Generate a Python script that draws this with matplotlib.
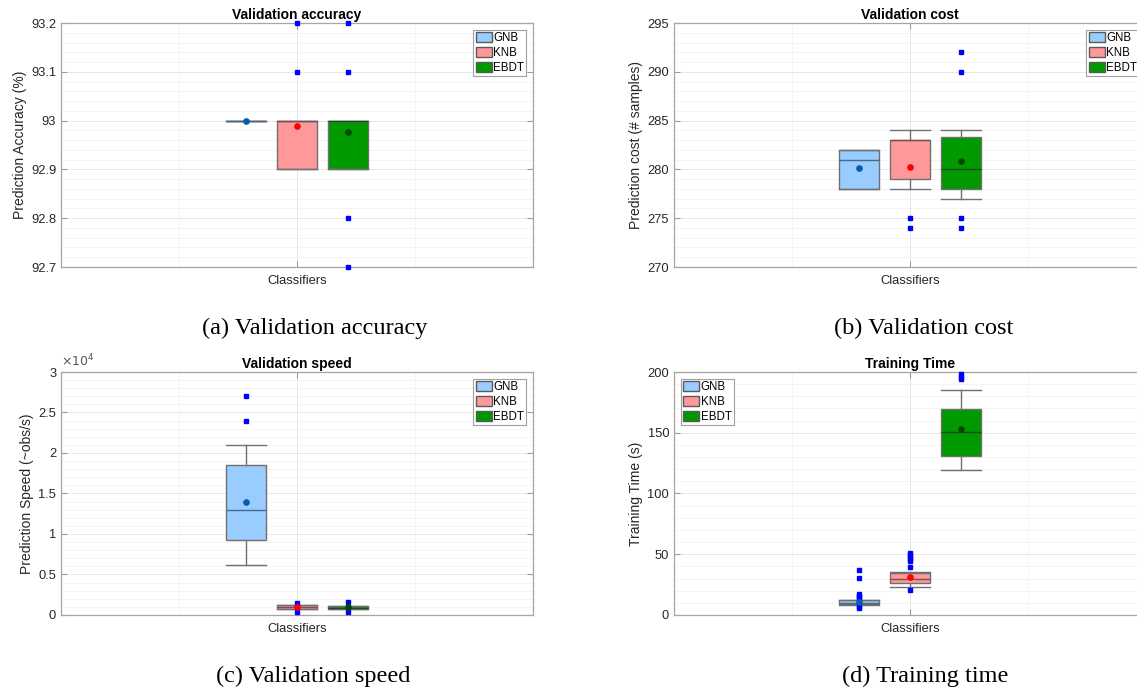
import matplotlib
matplotlib.use("Agg")
from matplotlib import pyplot as plt
from matplotlib.patches import Patch
from matplotlib.ticker import MultipleLocator, FixedLocator, FuncFormatter

classes = ["GNB", "KNB", "EBDT"]

# (a) validation accuracy (%)
acc_q1 = [93.0, 92.9, 92.9]
acc_med = [93.0, 93.0, 93.0]
acc_q3 = [93.0, 93.0, 93.0]
acc_lo = [93.0, 92.9, 92.9]
acc_hi = [93.0, 93.0, 93.0]
acc_mean = [93.0, 92.988, 92.976]
acc_out = [[], [93.1, 93.2], [93.2, 93.1, 92.8, 92.7]]

# (b) validation cost (# samples)
cost_q1 = [278, 279, 278]
cost_med = [281, 283, 280]
cost_q3 = [282, 283, 283.3]
cost_lo = [278, 278, 277]
cost_hi = [282, 284, 284]
cost_mean = [280.15, 280.2, 280.85]
cost_out = [[], [275, 274], [292, 290, 275, 274]]

# (c) validation speed (obs/s)
speed_q1 = [9200, 780, 740]
speed_med = [13000, 950, 920]
speed_q3 = [18500, 1200, 1150]
speed_lo = [6200, 780, 740]
speed_hi = [21000, 1200, 1150]
speed_mean = [13900, 990, 950]
speed_out = [[27000, 24000], [1500, 400], [1600, 380]]

# (d) training time (s)
time_q1 = [8.8, 26.1, 131.2]
time_med = [10.1, 29.6, 151.0]
time_q3 = [12.1, 34.3, 169.6]
time_lo = [8.0, 23.3, 119.7]
time_hi = [12.5, 35.7, 184.9]
time_mean = [10.6, 31.3, 153.2]
time_out = [[37, 30.4, 17.5, 16, 14.5, 13.5, 7.5, 6],
            [50.8, 49.3, 47.8, 46.3, 44.5, 39.2, 20.6],
            [198, 196, 194]]

FACE = ["#99ccff", "#ff9999", "#009900"]
MEANC = ["#0a5cb0", "#ff0000", "#004a00"]
MEDC = ["#4a6a8a", "#7a5050", "#1e4a1e"]
POS = [0.892, 1.0, 1.108]
SANS = "Liberation Sans"
TXT = "#262626"


def draw_panel(ax, q1, med, q3, lo, hi, mean, out, title, ylabel, ylim, major, minor,
               legend_loc="upper right", fmt=None):
    stats = []
    for i in range(len(classes)):
        stats.append(dict(q1=q1[i], med=med[i], q3=q3[i], whislo=lo[i], whishi=hi[i],
                          mean=mean[i], fliers=out[i], label=classes[i]))
    for i in range(len(classes)):
        r = ax.bxp([stats[i]], positions=[POS[i]], widths=0.085, patch_artist=True,
                   showmeans=True, showfliers=True, capwidths=0.085,
                   boxprops=dict(facecolor=FACE[i], edgecolor="#707070", linewidth=1.0),
                   whiskerprops=dict(color="#707070", linewidth=1.0),
                   capprops=dict(color="#707070", linewidth=1.0),
                   medianprops=dict(color=MEDC[i], linewidth=1.0),
                   meanprops=dict(marker="o", markerfacecolor=MEANC[i], markeredgecolor=MEANC[i],
                                  markersize=3.8),
                   flierprops=dict(marker="s", markerfacecolor="#0000ff", markeredgecolor="#0000ff",
                                   markersize=2.8, linestyle="none"))
        for fl in r["fliers"]:
            fl.set_clip_on(False)
            fl.set_zorder(5)
        for m in r["means"]:
            m.set_zorder(6)

    ax.set_xlim(0.5, 1.5)
    ax.set_ylim(*ylim)
    ax.xaxis.set_major_locator(FixedLocator([1.0]))
    ax.xaxis.set_minor_locator(FixedLocator([0.75, 1.25]))
    ax.set_xticklabels(["Classifiers"])
    ax.yaxis.set_major_locator(MultipleLocator(major))
    ax.yaxis.set_minor_locator(MultipleLocator(minor))
    if fmt is None:
        fmt = lambda v, p: "%g" % round(v, 6)
    ax.yaxis.set_major_formatter(FuncFormatter(fmt))

    ax.grid(True, which="major", color="#e3e3e3", linewidth=0.6)
    ax.grid(True, which="minor", color="#f0f0f0", linewidth=0.5)
    ax.set_axisbelow(True)
    ax.tick_params(which="both", direction="in", top=True, right=True, colors="#9a9a9a",
                   labelcolor=TXT, labelsize=9.3, length=4)
    ax.tick_params(which="minor", length=0)
    ax.tick_params(axis="x", pad=6)
    for lab in ax.get_xticklabels() + ax.get_yticklabels():
        lab.set_family(SANS)
    for s in ax.spines.values():
        s.set_color("#a6a6a6")
        s.set_linewidth(0.9)

    ax.set_title(title, fontsize=10, fontweight="bold", family=SANS, color="black", pad=3)
    ax.set_ylabel(ylabel, fontsize=10, family=SANS, color=TXT, labelpad=3)

    handles = [Patch(facecolor=FACE[i], edgecolor="#5a5a5a", label=classes[i])
               for i in range(len(classes))]
    leg = ax.legend(handles=handles, loc=legend_loc, fancybox=False, framealpha=1,
                    prop={"family": SANS, "size": 8.3}, handlelength=1.4, handleheight=0.9,
                    handletextpad=0.1, labelspacing=0.25, borderpad=0.2, borderaxespad=0.6)
    leg.get_frame().set_edgecolor("#a0a0a0")
    leg.get_frame().set_linewidth(0.8)


fig = plt.figure(figsize=(11.37, 6.93), dpi=100)
ax_a = fig.add_axes([0.0537, 0.6147, 0.4151, 0.3521])
ax_b = fig.add_axes([0.5928, 0.6147, 0.4151, 0.3521])
ax_c = fig.add_axes([0.0537, 0.1126, 0.4151, 0.3506])
ax_d = fig.add_axes([0.5928, 0.1126, 0.4151, 0.3506])

draw_panel(ax_a, acc_q1, acc_med, acc_q3, acc_lo, acc_hi, acc_mean, acc_out,
           "Validation accuracy", "Prediction Accuracy (%)", (92.7, 93.2), 0.1, 0.02)
draw_panel(ax_b, cost_q1, cost_med, cost_q3, cost_lo, cost_hi, cost_mean, cost_out,
           "Validation cost", "Prediction cost (# samples)", (270, 295), 5, 1)
draw_panel(ax_c, speed_q1, speed_med, speed_q3, speed_lo, speed_hi, speed_mean, speed_out,
           "Validation speed", "Prediction Speed (~obs/s)", (0, 30000), 5000, 1000,
           fmt=lambda v, p: "%g" % round(v / 1e4, 4))
ax_c.text(0.0, 1.012, r"$\times10^{4}$", transform=ax_c.transAxes, fontsize=9,
          color="#555555", ha="left", va="bottom")
draw_panel(ax_d, time_q1, time_med, time_q3, time_lo, time_hi, time_mean, time_out,
           "Training Time", "Training Time (s)", (0, 200), 50, 10, legend_loc="upper left")

CAP = "Liberation Serif"
fig.text(315 / 1137, 1 - 328 / 693, "(a) Validation accuracy", ha="center", va="center",
         family=CAP, fontsize=17.5)
fig.text(924 / 1137, 1 - 328 / 693, "(b) Validation cost", ha="center", va="center",
         family=CAP, fontsize=17.5)
fig.text(313 / 1137, 1 - 676 / 693, "(c) Validation speed", ha="center", va="center",
         family=CAP, fontsize=17.5)
fig.text(925 / 1137, 1 - 676 / 693, "(d) Training time", ha="center", va="center",
         family=CAP, fontsize=17.5)

plt.savefig("out.png", dpi=100)
